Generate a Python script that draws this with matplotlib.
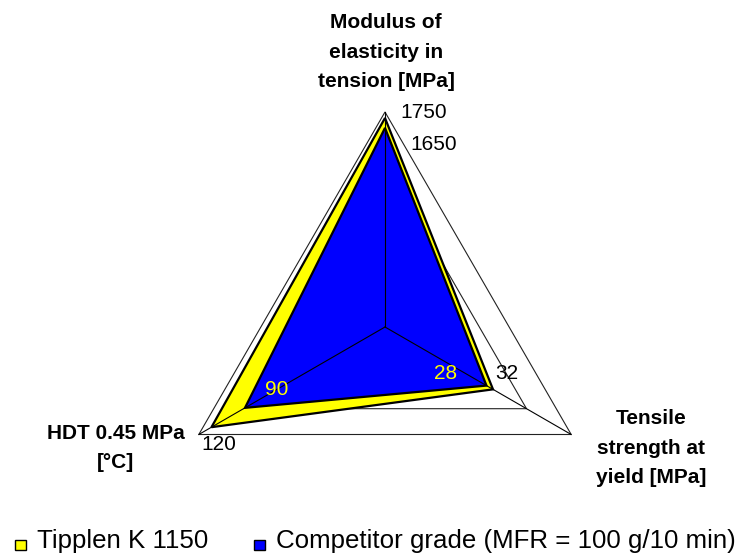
import numpy as np
import matplotlib
matplotlib.use("Agg")
import matplotlib.pyplot as plt
from matplotlib.patches import Polygon, Rectangle

plt.rcParams['font.family'] = ['Liberation Sans', 'DejaVu Sans']

# Radar axes, clockwise from the top
categories = ["Modulus of\nelasticity in\ntension [MPa]",
              "Tensile\nstrength at\nyield [MPa]",
              "HDT 0.45 MPa\n[°C]"]
angles_deg = [90, -30, 210]

series_names = ["Tipplen K 1150", "Competitor grade (MFR = 100 g/10 min)"]
series_colors = ["#FFFF00", "#0000FF"]

# values written as data labels
tipplen_values = [1750, 32, 120]
competitor_values = [1650, 28, 90]

# where each point sits along its spoke (outer gridline = 1)
tipplen_scaled = [0.972, 0.58, 0.932]
competitor_scaled = [0.926, 0.545, 0.752]

grid_levels = [0.76, 1.0]

W, H = 741, 555
fig = plt.figure(figsize=(W / 100, H / 100), dpi=100)
ax = fig.add_axes([0, 0, 1, 1])
# centre of the radar at pixel (385, 327), outer radius 215 px
ax.set_xlim(-385 / 215, (W - 385) / 215)
ax.set_ylim(-(H - 327) / 215, 327 / 215)
ax.axis('off')

theta = np.deg2rad(angles_deg)
cx, cy = np.cos(theta), np.sin(theta)

# gridline triangles (behind the series)
for lev in grid_levels:
    ax.add_patch(Polygon(np.column_stack([lev * cx, lev * cy]), closed=True,
                         fill=False, edgecolor='#222222', lw=0.8, zorder=1))

# series
for scaled, col in [(tipplen_scaled, series_colors[0]), (competitor_scaled, series_colors[1])]:
    r = np.array(scaled)
    ax.add_patch(Polygon(np.column_stack([r * cx, r * cy]), closed=True,
                         facecolor=col, edgecolor='black', lw=1.6, zorder=2))

# spokes drawn on top
for i in range(len(categories)):
    ax.plot([0, cx[i]], [0, cy[i]], color='black', lw=0.8, zorder=3)

# data labels: (value, scaled, axis index, offset px, ha, colour)
labels = [
    (tipplen_values[0], tipplen_scaled[0], 0, (15, 6), 'left', 'black'),
    (competitor_values[0], competitor_scaled[0], 0, (25, -17), 'left', 'black'),
    (tipplen_values[1], tipplen_scaled[1], 1, (2, 16), 'left', 'black'),
    (competitor_values[1], competitor_scaled[1], 1, (-29, 12), 'right', '#FFFF00'),
    (competitor_values[2], competitor_scaled[2], 2, (20, 18), 'left', '#FFFF00'),
    (tipplen_values[2], tipplen_scaled[2], 2, (-10, -17), 'left', 'black'),
]
for val, r, i, off, ha, col in labels:
    ax.annotate(str(val), (r * cx[i], r * cy[i]), xytext=off,
                textcoords='offset pixels', ha=ha, va='center',
                fontsize=15, color=col, zorder=4)

# category labels
cat_pos = [(386, 52), (651, 448), (116, 448)]
for name, (px, py) in zip(categories, cat_pos):
    fig.text(px / W, 1 - py / H, name, ha='center', va='center',
             multialignment='center', fontsize=15, fontweight='bold',
             linespacing=1.68)

# legend along the bottom
leg_x = [15, 254]
for name, col, x0 in zip(series_names, series_colors, leg_x):
    fig.patches.append(Rectangle((x0 / W, 1 - 550 / H), 11 / W, 10 / H,
                                 transform=fig.transFigure, facecolor=col,
                                 edgecolor='black', lw=1.0))
    fig.text((x0 + 22) / W, 1 - 541 / H, name, ha='left', va='center',
             fontsize=18.6)

fig.savefig("out.png", dpi=100)
